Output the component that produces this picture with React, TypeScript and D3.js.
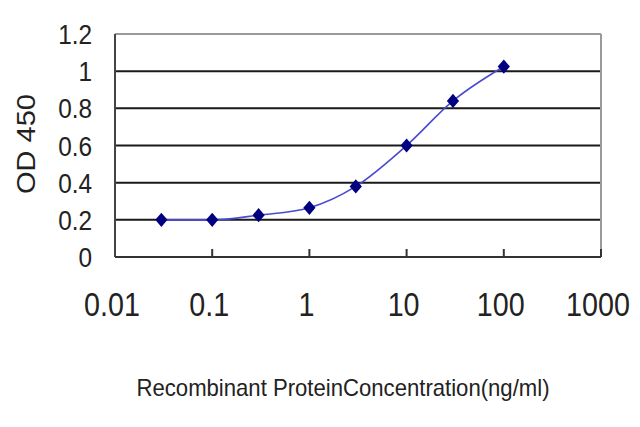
import React, { useEffect, useRef } from "react";
import * as d3 from "d3";

// ELISA standard curve: OD 450 vs recombinant protein concentration
const concentrations = [0.03, 0.1, 0.3, 1, 3, 10, 30, 100];
const od450 = [0.2, 0.2, 0.225, 0.265, 0.38, 0.6, 0.84, 1.025];
const xTicks = [0.01, 0.1, 1, 10, 100, 1000];
const yTicks = [0, 0.2, 0.4, 0.6, 0.8, 1, 1.2];

const App: React.FC = () => {
  const svgRef = useRef<SVGSVGElement>(null);
  const width = 640;
  const height = 427;

  useEffect(() => {
    if (!svgRef.current) return;
    const svg = d3.select(svgRef.current);
    svg.selectAll("*").remove();

    const margin = { top: 34, right: 39, bottom: 170, left: 115 };
    const innerWidth = width - margin.left - margin.right;
    const innerHeight = height - margin.top - margin.bottom;

    const font = "'Liberation Sans', Arial, sans-serif";
    const squeeze = 0.87; // the source font is condensed

    const xScale = d3.scaleLog().domain([0.01, 1000]).range([0, innerWidth]);
    const yScale = d3.scaleLinear().domain([0, 1.2]).range([innerHeight, 0]);

    const g = svg.append("g")
      .attr("transform", `translate(${margin.left},${margin.top})`);

    // horizontal grid
    g.selectAll("line.grid")
      .data(yTicks.filter(t => t > 0 && t < 1.2))
      .join("line")
      .attr("class", "grid")
      .attr("x1", 0)
      .attr("x2", innerWidth)
      .attr("y1", d => yScale(d))
      .attr("y2", d => yScale(d))
      .attr("stroke", "#1a1a1a")
      .attr("stroke-width", 2);

    // frame: top + right gray
    g.append("line")
      .attr("x1", 0).attr("x2", innerWidth)
      .attr("y1", yScale(1.2)).attr("y2", yScale(1.2))
      .attr("stroke", "#9a9a9a").attr("stroke-width", 2);
    g.append("line")
      .attr("x1", innerWidth).attr("x2", innerWidth)
      .attr("y1", 0).attr("y2", innerHeight)
      .attr("stroke", "#9a9a9a").attr("stroke-width", 2);

    // left axis
    g.append("line")
      .attr("x1", 0).attr("x2", 0)
      .attr("y1", 0).attr("y2", innerHeight)
      .attr("stroke", "#444").attr("stroke-width", 2);

    // bottom axis with inward ticks
    g.append("line")
      .attr("x1", 0).attr("x2", innerWidth)
      .attr("y1", innerHeight).attr("y2", innerHeight)
      .attr("stroke", "#333").attr("stroke-width", 2);
    g.selectAll("line.xtick")
      .data(xTicks.slice(1))
      .join("line")
      .attr("class", "xtick")
      .attr("x1", d => xScale(d))
      .attr("x2", d => xScale(d))
      .attr("y1", innerHeight - 8)
      .attr("y2", innerHeight)
      .attr("stroke", "#333")
      .attr("stroke-width", 2);

    // y tick labels
    g.selectAll("text.ylab")
      .data(yTicks)
      .join("text")
      .attr("class", "ylab")
      .attr("transform", d => `translate(-23,${yScale(d) + 10}) scale(${squeeze},1)`)
      .attr("text-anchor", "end")
      .style("font-family", font)
      .style("font-size", "28px")
      .attr("fill", "#222")
      .text(d => String(+d.toFixed(1)));

    // x tick labels
    g.selectAll("text.xlab")
      .data(xTicks)
      .join("text")
      .attr("class", "xlab")
      .attr("transform", d => `translate(${xScale(d) - 3},${innerHeight + 59}) scale(${squeeze},1)`)
      .attr("text-anchor", "middle")
      .style("font-family", font)
      .style("font-size", "33px")
      .attr("fill", "#222")
      .text(d => String(d));

    // series
    const points = concentrations.map((c, i) => ({ x: c, y: od450[i] }));
    const line = d3.line<{ x: number; y: number }>()
      .x(d => xScale(d.x))
      .y(d => yScale(d.y))
      .curve(d3.curveMonotoneX);

    g.append("path")
      .datum(points)
      .attr("fill", "none")
      .attr("stroke", "#4a4ad0")
      .attr("stroke-width", 1.6)
      .attr("d", line);

    const diamond = d3.symbol().type(d3.symbolSquare).size(92);
    g.selectAll("path.pt")
      .data(points)
      .join("path")
      .attr("class", "pt")
      .attr("d", diamond)
      .attr("transform", d => `translate(${xScale(d.x)},${yScale(d.y)}) scale(0.9,1.05) rotate(45)`)
      .attr("fill", "#000080");

    // axis titles
    svg.append("text")
      .attr("transform", "translate(35,144) rotate(-90)")
      .attr("text-anchor", "middle")
      .attr("textLength", 100)
      .attr("lengthAdjust", "spacingAndGlyphs")
      .style("font-family", font)
      .style("font-size", "25px")
      .attr("fill", "#222")
      .text("OD 450");

    svg.append("text")
      .attr("x", 343)
      .attr("y", 396)
      .attr("text-anchor", "middle")
      .attr("textLength", 413)
      .attr("lengthAdjust", "spacingAndGlyphs")
      .style("font-family", font)
      .style("font-size", "24px")
      .attr("fill", "#222")
      .text("Recombinant ProteinConcentration(ng/ml)");
  }, []);

  return (
    <div style={{ position: "fixed", left: 0, top: 0 }}>
      <svg
        ref={svgRef}
        width={width}
        height={height}
        style={{ display: "block", backgroundColor: "#ffffff" }}
      />
    </div>
  );
};

export default App;
